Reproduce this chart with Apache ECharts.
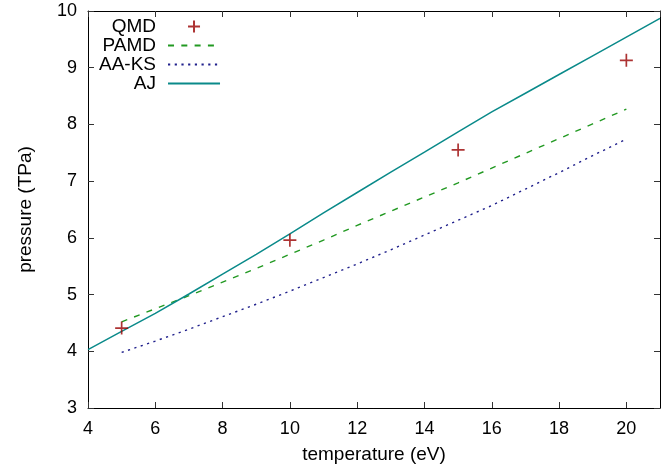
<!DOCTYPE html>
<html>
<head>
<meta charset="utf-8">
<script src="https://cdn.jsdelivr.net/npm/echarts@6/dist/echarts.min.js"></script>
<style>html,body{margin:0;padding:0;background:#fff;}#c{width:670px;height:474px;}</style>
</head>
<body>
<div id="c"></div>
<script>
// ---- data ----
const qmdT = [5, 10, 15, 20];
const qmdP = [4.41, 5.96, 7.55, 9.13];

const pamdT = [5, 6, 7, 8, 9, 10, 11, 12, 13, 14, 15, 16, 17, 18, 19, 20];
const pamdP = [4.52, 4.75, 4.98, 5.22, 5.46, 5.71, 5.96, 6.22, 6.47, 6.72, 6.97, 7.23, 7.49, 7.75, 8.01, 8.27];

const aaksT = [5, 6, 7, 8, 9, 10, 11, 12, 13, 14, 15, 16, 17, 18, 19, 20];
const aaksP = [3.98, 4.18, 4.39, 4.61, 4.83, 5.06, 5.30, 5.54, 5.79, 6.05, 6.31, 6.57, 6.86, 7.15, 7.45, 7.74];

const ajT = [4, 5, 6, 7, 8, 9, 10, 11, 12, 13, 14, 15, 16, 17, 18, 19, 20, 21];
const ajP = [4.03, 4.35, 4.67, 5.01, 5.36, 5.71, 6.07, 6.44, 6.80, 7.16, 7.51, 7.87, 8.22, 8.55, 8.88, 9.21, 9.54, 9.87];

const seriesNames = ['QMD', 'PAMD', 'AA-KS', 'AJ'];
const xTitle = 'temperature (eV)';
const yTitle = 'pressure (TPa)';

const zip = (a, b) => a.map((v, i) => [v, b[i]]);

const FONT = 'Liberation Sans, Arial, Helvetica, sans-serif';
const chart = echarts.init(document.getElementById('c'), null, {renderer: 'canvas'});

const tickStyle = {show: true, inside: true, length: 6, lineStyle: {color: '#333', width: 1}};
const lineStyleAxis = {show: true, onZero: false, lineStyle: {color: '#000', width: 1}};
const hiddenMarker = {color: 'rgba(0,0,0,0)', borderColor: 'rgba(0,0,0,0)', borderWidth: 0};

chart.setOption({
  animation: false,
  backgroundColor: '#fff',
  grid: {left: 88, right: 10, top: 11, bottom: 66, containLabel: false},
  legend: {
    orient: 'vertical',
    align: 'right',
    left: 99,
    top: 17,
    padding: 0,
    itemWidth: 52,
    itemHeight: 12,
    itemGap: 0,
    data: seriesNames.map((n, i) => (i === 0 ? {name: n} : {name: n, itemStyle: hiddenMarker})),
    textStyle: {fontFamily: FONT, fontSize: 19, color: '#000', padding: [0, 7, 0, 0]}
  },
  xAxis: [{
    type: 'value', min: 4, max: 21, interval: 2, position: 'bottom',
    name: xTitle, nameLocation: 'middle', nameGap: 37,
    nameTextStyle: {fontFamily: FONT, fontSize: 19, color: '#000'},
    axisLine: lineStyleAxis, axisTick: tickStyle,
    axisLabel: {fontFamily: FONT, fontSize: 18, color: '#000', margin: 12, showMaxLabel: false,
      formatter: v => (v % 2 === 0 ? String(v) : '')},
    splitLine: {show: false}
  }, {
    type: 'value', min: 4, max: 21, interval: 2, position: 'top',
    axisLine: lineStyleAxis, axisTick: tickStyle,
    axisLabel: {show: false}, splitLine: {show: false}
  }],
  yAxis: [{
    type: 'value', min: 3, max: 10, interval: 1, position: 'left',
    name: yTitle, nameLocation: 'middle', nameGap: 53, nameRotate: 90,
    nameTextStyle: {fontFamily: FONT, fontSize: 19, color: '#000'},
    axisLine: lineStyleAxis, axisTick: tickStyle,
    axisLabel: {fontFamily: FONT, fontSize: 18, color: '#000', margin: 11},
    splitLine: {show: false}
  }, {
    type: 'value', min: 3, max: 10, interval: 1, position: 'right',
    axisLine: lineStyleAxis, axisTick: tickStyle,
    axisLabel: {show: false}, splitLine: {show: false}
  }],
  series: [
    {
      name: 'QMD', type: 'scatter', data: zip(qmdT, qmdP),
      symbol: 'path://M0,6.5L13,6.5M6.5,0L6.5,13', symbolSize: 13, symbolKeepAspect: true,
      itemStyle: {color: 'rgba(0,0,0,0)', borderColor: '#990000', borderWidth: 1.7},
      z: 5
    },
    {
      name: 'PAMD', type: 'line', data: zip(pamdT, pamdP), symbol: 'none', smooth: false,
      lineStyle: {color: '#229922', width: 1.4, type: [6, 7.3]}, itemStyle: {color: '#229922'}
    },
    {
      name: 'AA-KS', type: 'line', data: zip(aaksT, aaksP), symbol: 'none',
      lineStyle: {color: '#20208c', width: 1.4, type: [2.2, 4.5]}, itemStyle: {color: '#20208c'}
    },
    {
      name: 'AJ', type: 'line', data: zip(ajT, ajP), symbol: 'none',
      lineStyle: {color: '#0a8a8a', width: 1.5}, itemStyle: {color: '#0a8a8a'}
    }
  ]
});
</script>
</body>
</html>
